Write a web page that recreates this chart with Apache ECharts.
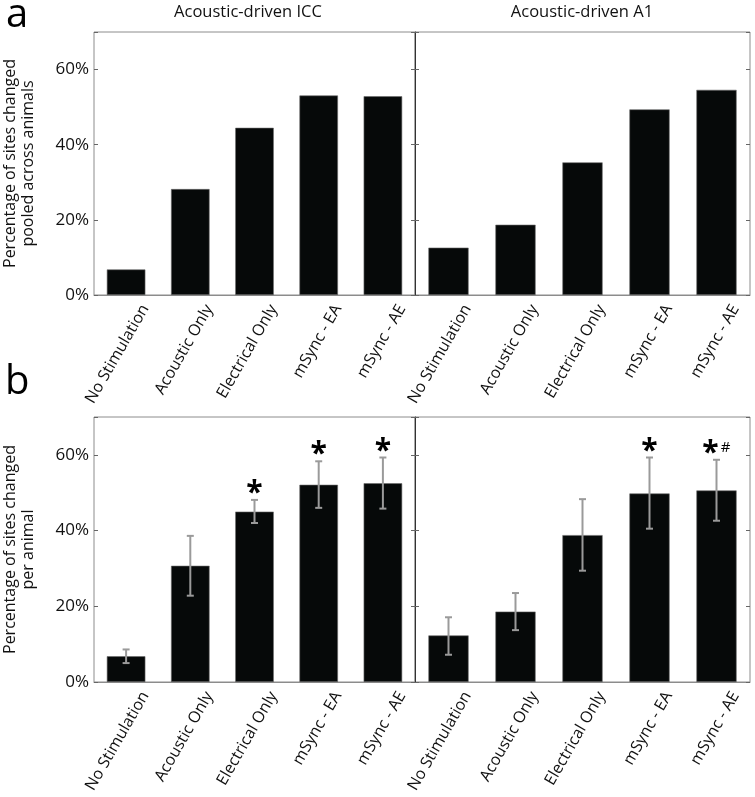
<!DOCTYPE html>
<html><head><meta charset="utf-8">
<script src="https://cdn.jsdelivr.net/npm/echarts@6/dist/echarts.min.js"></script>
<style>html,body{margin:0;padding:0;background:#fff}#c{width:755px;height:797px}</style>
</head><body><div id="c"></div>
<script>
// ---- data ----
const categories = ['No Stimulation', 'Acoustic Only', 'Electrical Only', 'mSync - EA', 'mSync - AE'];
const panelTitles = ['Acoustic-driven ICC', 'Acoustic-driven A1'];
const yTicks = [0, 20, 40, 60];
// (a) pooled across animals
const pooledICC = [6.8, 28.2, 44.5, 53.1, 52.9];
const pooledA1 = [12.6, 18.7, 35.3, 49.4, 54.6];
// (b) per animal mean with error bars
const perAnimalICC = [6.8, 30.7, 45.0, 52.1, 52.5];
const errLowICC = [5.0, 22.8, 42.0, 46.0, 45.8];
const errHighICC = [8.6, 38.6, 48.1, 58.3, 59.3];
const perAnimalA1 = [12.3, 18.6, 38.8, 49.8, 50.6];
const errLowA1 = [7.2, 13.7, 29.4, 40.5, 42.6];
const errHighA1 = [17.1, 23.5, 48.3, 59.3, 58.7];
const sigICC = ['', '', '*', '*', '*'];
const sigA1 = ['', '', '', '*', '*'];
const hashA1 = ['', '', '', '', '#'];

// ---- chart ----
const FONT = 'Open Sans';
const TXT = '#111';
const FRAME = '#8c8c8c';
const chart = echarts.init(document.getElementById('c'), null, {renderer: 'canvas'});

const gridDefs = [
  {left: 81, top: 32, width: 334, height: 263},
  {left: 415, top: 32, width: 335, height: 263},
  {left: 81, top: 417, width: 334, height: 265},
  {left: 415, top: 417, width: 335, height: 265}
];
const grids = gridDefs.map(g => Object.assign({show: true, borderColor: FRAME, borderWidth: 1, backgroundColor: 'transparent'}, g));

const xAxes = gridDefs.map((g, i) => ({
  type: 'category', gridIndex: i, data: categories,
  axisLine: {show: true, lineStyle: {color: FRAME, width: 1}},
  axisTick: {show: false},
  axisLabel: {interval: 0, rotate: 60, fontFamily: FONT, fontSize: 16, color: TXT, margin: 0,
    verticalAlign: 'top', padding: [14, 0, 0, 0]}
}));

function yAxisBase(gi, pos, opts) {
  return Object.assign({
    type: 'value', gridIndex: gi, position: pos, min: 0, max: 70, interval: 20,
    splitLine: {show: false},
    axisLine: {show: false},
    axisTick: {show: true, inside: true, length: 4, lineStyle: {color: '#666'}},
    axisLabel: {show: false}
  }, opts || {});
}
const yLabel = {
  show: true, fontFamily: FONT, fontSize: 17, color: TXT, margin: 5,
  formatter: v => (yTicks.indexOf(v) >= 0 ? v + '%' : '')
};
const nameStyle = {fontFamily: FONT, fontSize: 16, color: TXT, lineHeight: 18};
const yAxes = [
  yAxisBase(0, 'left', {axisLabel: yLabel, name: 'Percentage of sites changed\npooled across animals', nameLocation: 'middle', nameGap: 57, nameRotate: 90, nameTextStyle: nameStyle}),
  yAxisBase(0, 'right'),
  yAxisBase(1, 'left', {axisLine: {show: true, lineStyle: {color: '#333', width: 1}}}),
  yAxisBase(1, 'right'),
  yAxisBase(2, 'left', {axisLabel: yLabel, name: 'Percentage of sites changed\nper animal', nameLocation: 'middle', nameGap: 57, nameRotate: 90, nameTextStyle: nameStyle}),
  yAxisBase(2, 'right'),
  yAxisBase(3, 'left', {axisLine: {show: true, lineStyle: {color: '#333', width: 1}}}),
  yAxisBase(3, 'right')
];

function barSeries(xi, yi, data) {
  return {type: 'bar', xAxisIndex: xi, yAxisIndex: yi, data: data, barWidth: '60%',
    itemStyle: {color: '#060909', borderColor: '#6a6a6a', borderWidth: 0.6}, silent: true, animation: false};
}
function errSeries(xi, yi, lows, highs) {
  return {
    type: 'custom', xAxisIndex: xi, yAxisIndex: yi, animation: false, silent: true, z: 5,
    data: lows.map((l, i) => [i, l, highs[i]]),
    encode: {x: 0, y: [1, 2]},
    renderItem: function (params, api) {
      const i = api.value(0);
      const lo = api.coord([i, api.value(1)]);
      const hi = api.coord([i, api.value(2)]);
      const w = 3.5, st = {stroke: '#9a9a9a', lineWidth: 2};
      return {type: 'group', children: [
        {type: 'line', shape: {x1: lo[0], y1: lo[1], x2: hi[0], y2: hi[1]}, style: st},
        {type: 'line', shape: {x1: lo[0] - w, y1: lo[1], x2: lo[0] + w, y2: lo[1]}, style: st},
        {type: 'line', shape: {x1: hi[0] - w, y1: hi[1], x2: hi[0] + w, y2: hi[1]}, style: st}
      ]};
    }
  };
}
function sigSeries(xi, yi, highs, sig, hash) {
  return {
    type: 'custom', xAxisIndex: xi, yAxisIndex: yi, animation: false, silent: true, z: 6,
    data: highs.map((h, i) => [i, h]),
    encode: {x: 0, y: 1},
    renderItem: function (params, api) {
      const idx = params.dataIndex;
      const p = api.coord([api.value(0), api.value(1)]);
      const children = [];
      const hasHash = hash && hash[idx];
      if (sig[idx]) {
        children.push({type: 'text', x: p[0] + (hasHash ? -6 : 0), y: p[1] + 8.5,
          style: {text: sig[idx], font: 'bold 30px "' + FONT + '"', fill: '#000', align: 'center', verticalAlign: 'bottom'}});
      }
      if (hasHash) {
        children.push({type: 'text', x: p[0] + 9, y: p[1] - 12,
          style: {text: hash[idx], font: '15px "' + FONT + '"', fill: '#000', align: 'center', verticalAlign: 'middle'}});
      }
      return {type: 'group', children: children};
    }
  };
}

const option = {
  animation: false,
  backgroundColor: '#fff',
  grid: grids,
  xAxis: xAxes,
  yAxis: yAxes,
  series: [
    barSeries(0, 0, pooledICC),
    barSeries(1, 2, pooledA1),
    barSeries(2, 4, perAnimalICC),
    barSeries(3, 6, perAnimalA1),
    errSeries(2, 4, errLowICC, errHighICC),
    errSeries(3, 6, errLowA1, errHighA1),
    sigSeries(2, 4, errHighICC, sigICC, null),
    sigSeries(3, 6, errHighA1, sigA1, hashA1)
  ],
  graphic: [
    {type: 'text', x: 248, y: 12, style: {text: panelTitles[0], font: '16.5px "' + FONT + '"', fill: TXT, align: 'center', verticalAlign: 'middle'}},
    {type: 'text', x: 582, y: 12, style: {text: panelTitles[1], font: '16.5px "' + FONT + '"', fill: TXT, align: 'center', verticalAlign: 'middle'}},
    {type: 'text', x: 6, y: 16, style: {text: 'a', font: '40px "' + FONT + '"', fill: '#000', align: 'left', verticalAlign: 'middle'}},
    {type: 'text', x: 5, y: 383, style: {text: 'b', font: '40px "' + FONT + '"', fill: '#000', align: 'left', verticalAlign: 'middle'}}
  ]
};
chart.setOption(option);
</script>
</body></html>
